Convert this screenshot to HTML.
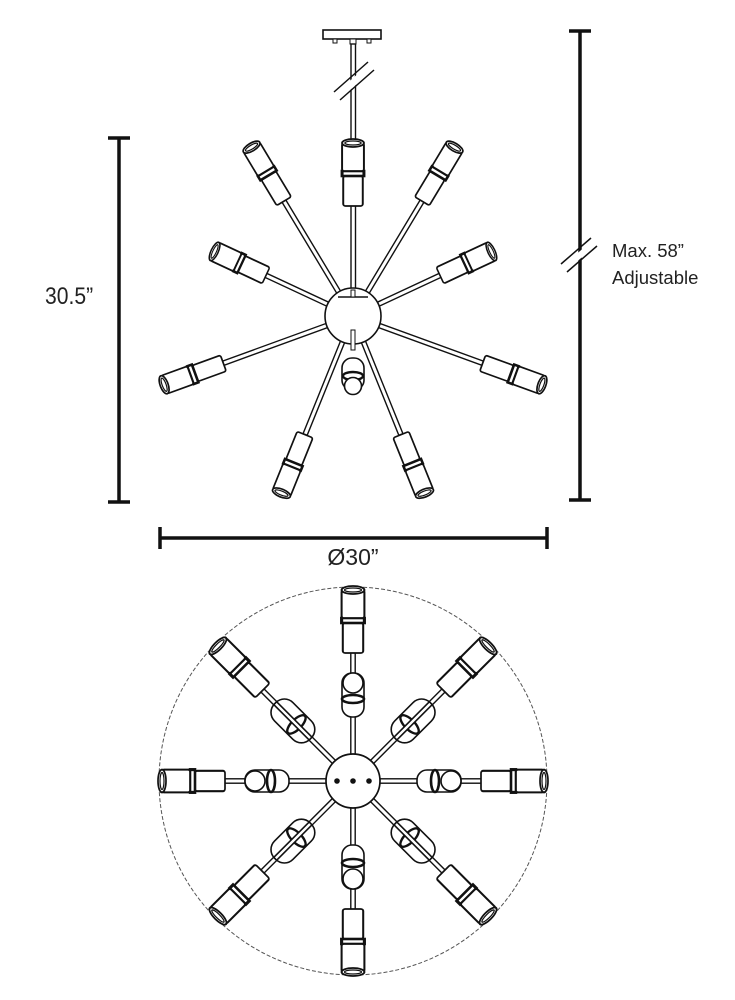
<!DOCTYPE html>
<html><head><meta charset="utf-8"><style>
html,body{margin:0;padding:0;background:#fff;}
svg{display:block;}
text{font-family:"Liberation Sans",sans-serif;fill:#222;}
</style></head><body>
<svg width="735" height="1000" viewBox="0 0 735 1000" xmlns="http://www.w3.org/2000/svg">
<defs>
<g id="lamp" fill="#fff" stroke="#111" stroke-width="1.7">
  <rect x="0" y="-8.5" width="30" height="17" rx="2"/>
  <rect x="30" y="-9.5" width="5" height="19" stroke-width="2.6"/>
  <rect x="35" y="-9.5" width="28" height="19" rx="2"/>
  <ellipse cx="63" cy="0" rx="4" ry="9.5"/>
  <ellipse cx="63" cy="0" rx="2" ry="7" stroke-width="1.2"/>
</g>
<g id="rod" stroke="#111" stroke-width="1.4" fill="#fff">
  <rect x="0" y="-2.2" width="100" height="4.4"/>
</g>
</defs>

<!-- dimension lines -->
<g stroke="#111" stroke-width="3.5" fill="none">
  <line x1="119" y1="138" x2="119" y2="502"/>
  <line x1="108" y1="138" x2="130" y2="138"/>
  <line x1="108" y1="502" x2="130" y2="502"/>
  <line x1="580" y1="31" x2="580" y2="500"/>
  <line x1="569" y1="31" x2="591" y2="31"/>
  <line x1="569" y1="500" x2="591" y2="500"/>
  <line x1="160" y1="538" x2="547" y2="538"/>
  <line x1="160" y1="527" x2="160" y2="549"/>
  <line x1="547" y1="527" x2="547" y2="549"/>
</g>
<g stroke="#fff" stroke-width="6"><line x1="565" y1="268" x2="595" y2="242"/></g>
<g stroke="#111" stroke-width="1.5">
  <line x1="561" y1="264" x2="591" y2="238"/>
  <line x1="567" y1="272" x2="597" y2="246"/>
</g>
<text x="45" y="304" font-size="24" transform="translate(45,0) scale(0.88,1) translate(-45,0)">30.5”</text>
<text x="612" y="257" font-size="18.5">Max. 58”</text>
<text x="612" y="284" font-size="18.5">Adjustable</text>
<text x="353" y="565" font-size="23" text-anchor="middle">Ø30”</text>

<!-- TOP FIXTURE -->
<g>
  <rect x="323" y="30" width="58" height="9" fill="#fff" stroke="#111" stroke-width="1.6"/>
  <rect x="333" y="39" width="4" height="4" fill="#fff" stroke="#111"/>
  <rect x="367" y="39" width="4" height="4" fill="#fff" stroke="#111"/>
  <rect x="350" y="39" width="6" height="5" fill="#fff" stroke="#111"/>
  <rect x="351" y="44" width="4.5" height="100" fill="#fff" stroke="#111" stroke-width="1.4"/>
  <rect x="351" y="202" width="4.5" height="93" fill="#fff" stroke="#111" stroke-width="1.4"/>
  <g stroke="#fff" stroke-width="7"><line x1="338" y1="96" x2="372" y2="66"/></g>
  <g stroke="#111" stroke-width="1.5">
    <line x1="334" y1="92" x2="368" y2="62"/>
    <line x1="340" y1="100" x2="374" y2="70"/>
  </g>
</g>
<g>
  <use href="#rod" transform="translate(353,316) rotate(-121) scale(1.35,1)"/>
  <use href="#rod" transform="translate(353,316) rotate(-59) scale(1.35,1)"/>
  <use href="#rod" transform="translate(353,316) rotate(-155) scale(0.98,1)"/>
  <use href="#rod" transform="translate(353,316) rotate(-25) scale(0.98,1)"/>
  <use href="#rod" transform="translate(353,316) rotate(160) scale(1.4,1)"/>
  <use href="#rod" transform="translate(353,316) rotate(20) scale(1.4,1)"/>
  <use href="#rod" transform="translate(353,316) rotate(112) scale(1.28,1)"/>
  <use href="#rod" transform="translate(353,316) rotate(68) scale(1.28,1)"/>
</g>
<circle cx="353" cy="316" r="28" fill="#fff" stroke="#111" stroke-width="1.6"/>
<line x1="338" y1="297" x2="368" y2="297" stroke="#111" stroke-width="1.4"/>
<rect x="351" y="290" width="4" height="7" fill="#fff" stroke="#111"/>
<rect x="351" y="330" width="4" height="20" fill="#fff" stroke="#111"/>
<use href="#lamp" transform="translate(353,206) rotate(-90) scale(1,1.15)"/>
<use href="#lamp" transform="translate(353,316) rotate(-121) translate(134,0)"/>
<use href="#lamp" transform="translate(353,316) rotate(-59) translate(134,0)"/>
<use href="#lamp" transform="translate(353,316) rotate(-155) translate(96,0) scale(0.9,1.05)"/>
<use href="#lamp" transform="translate(353,316) rotate(-25) translate(96,0) scale(0.9,1.05)"/>
<use href="#lamp" transform="translate(353,316) rotate(160) translate(138,0)"/>
<use href="#lamp" transform="translate(353,316) rotate(20) translate(138,0)"/>
<use href="#lamp" transform="translate(353,316) rotate(112) translate(128,0)"/>
<use href="#lamp" transform="translate(353,316) rotate(68) translate(128,0)"/>
<g fill="#fff" stroke="#111" stroke-width="1.6">
  <rect x="342" y="358" width="22" height="32" rx="10"/>
  <ellipse cx="353" cy="376" rx="10" ry="4" stroke-width="2.4"/>
  <circle cx="353" cy="386" r="8.5"/>
</g>

<!-- BOTTOM VIEW -->
<circle cx="353" cy="781" r="194" fill="none" stroke="#555" stroke-width="1" stroke-dasharray="4,2"/>
<g>
  <use href="#rod" transform="translate(353,781) rotate(0) scale(1.3,1)"/>
  <use href="#rod" transform="translate(353,781) rotate(45) scale(1.3,1)"/>
  <use href="#rod" transform="translate(353,781) rotate(90) scale(1.3,1)"/>
  <use href="#rod" transform="translate(353,781) rotate(135) scale(1.3,1)"/>
  <use href="#rod" transform="translate(353,781) rotate(180) scale(1.3,1)"/>
  <use href="#rod" transform="translate(353,781) rotate(225) scale(1.3,1)"/>
  <use href="#rod" transform="translate(353,781) rotate(270) scale(1.3,1)"/>
  <use href="#rod" transform="translate(353,781) rotate(315) scale(1.3,1)"/>
</g>
<g>
  <use href="#lamp" transform="translate(353,781) rotate(0) translate(128,0) scale(1,1.2)"/>
  <use href="#lamp" transform="translate(353,781) rotate(45) translate(128,0) scale(1,1.2)"/>
  <use href="#lamp" transform="translate(353,781) rotate(90) translate(128,0) scale(1,1.2)"/>
  <use href="#lamp" transform="translate(353,781) rotate(135) translate(128,0) scale(1,1.2)"/>
  <use href="#lamp" transform="translate(353,781) rotate(180) translate(128,0) scale(1,1.2)"/>
  <use href="#lamp" transform="translate(353,781) rotate(225) translate(128,0) scale(1,1.2)"/>
  <use href="#lamp" transform="translate(353,781) rotate(270) translate(128,0) scale(1,1.2)"/>
  <use href="#lamp" transform="translate(353,781) rotate(315) translate(128,0) scale(1,1.2)"/>
</g>
<g fill="#fff" stroke="#111" stroke-width="1.6">
  <g transform="translate(353,781) rotate(-90)"><rect x="64" y="-11" width="44" height="22" rx="10"/><ellipse cx="82" cy="0" rx="4" ry="11" stroke-width="2.6"/><circle cx="98" cy="0" r="10"/></g>
  <g transform="translate(353,781) rotate(90)"><rect x="64" y="-11" width="44" height="22" rx="10"/><ellipse cx="82" cy="0" rx="4" ry="11" stroke-width="2.6"/><circle cx="98" cy="0" r="10"/></g>
  <g transform="translate(353,781) rotate(0)"><rect x="64" y="-11" width="44" height="22" rx="10"/><ellipse cx="82" cy="0" rx="4" ry="11" stroke-width="2.6"/><circle cx="98" cy="0" r="10"/></g>
  <g transform="translate(353,781) rotate(180)"><rect x="64" y="-11" width="44" height="22" rx="10"/><ellipse cx="82" cy="0" rx="4" ry="11" stroke-width="2.6"/><circle cx="98" cy="0" r="10"/></g>
  <g transform="translate(353,781) rotate(-45)"><rect x="60" y="-13" width="50" height="26" rx="12"/><ellipse cx="80" cy="0" rx="5" ry="12" stroke-width="2.4"/><rect x="60" y="-2" width="50" height="4"/></g>
  <g transform="translate(353,781) rotate(-135)"><rect x="60" y="-13" width="50" height="26" rx="12"/><ellipse cx="80" cy="0" rx="5" ry="12" stroke-width="2.4"/><rect x="60" y="-2" width="50" height="4"/></g>
  <g transform="translate(353,781) rotate(45)"><rect x="60" y="-13" width="50" height="26" rx="12"/><ellipse cx="80" cy="0" rx="5" ry="12" stroke-width="2.4"/><rect x="60" y="-2" width="50" height="4"/></g>
  <g transform="translate(353,781) rotate(135)"><rect x="60" y="-13" width="50" height="26" rx="12"/><ellipse cx="80" cy="0" rx="5" ry="12" stroke-width="2.4"/><rect x="60" y="-2" width="50" height="4"/></g>
</g>
<circle cx="353" cy="781" r="27" fill="#fff" stroke="#111" stroke-width="1.7"/>
<circle cx="337" cy="781" r="2.8" fill="#111"/>
<circle cx="353" cy="781" r="2.8" fill="#111"/>
<circle cx="369" cy="781" r="2.8" fill="#111"/>
</svg>
</body></html>
